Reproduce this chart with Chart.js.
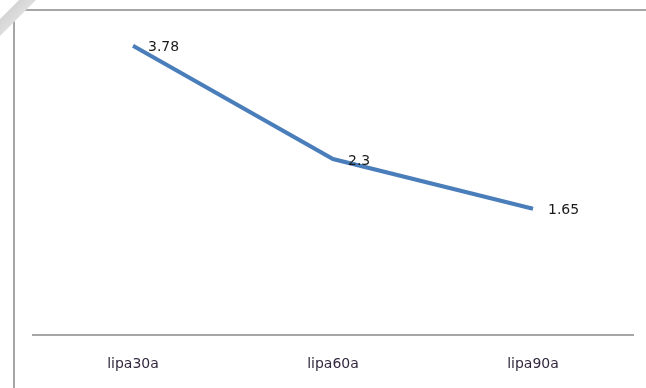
<!DOCTYPE html>
<html>
<head>
<meta charset="utf-8">
<script src="https://cdn.jsdelivr.net/npm/chart.js@4/dist/chart.umd.min.js"></script>
<style>
  html, body { margin: 0; padding: 0; background: #fff; }
  #wrap { position: relative; width: 646px; height: 388px; overflow: hidden; }
  #frame {
    position: absolute; left: 13px; top: 9px; right: -4px; bottom: -4px;
    border-left: 2px solid #a6a6a6; border-top: 2px solid #a6a6a6;
  }
  #curl {
    position: absolute; left: 0; top: 0; width: 40px; height: 40px;
    background: linear-gradient(135deg, #fff 0, #fff 13px, #d4d4d4 14px, #dedede 25px, rgba(255,255,255,0) 26px);
  }
  canvas { position: absolute; left: 0; top: 0; }
</style>
</head>
<body>
<div id="wrap">
  <div id="frame"></div>
  <canvas id="lineChart" width="646" height="388"></canvas>
  <div id="curl"></div>
</div>
<script>
const categories = ['lipa30a', 'lipa60a', 'lipa90a'];
const values = [3.78, 2.3, 1.65];

// value labels placed just right of each point
const pointLabels = {
  id: 'pointLabels',
  afterDatasetsDraw(chart) {
    const ctx = chart.ctx;
    const meta = chart.getDatasetMeta(0);
    ctx.save();
    ctx.font = '14px "DejaVu Sans", Verdana, sans-serif';
    ctx.fillStyle = '#1a1a1a';
    ctx.textBaseline = 'middle';
    meta.data.forEach((pt, i) => {
      ctx.fillText(String(values[i]), pt.x + 15, pt.y + 2);
    });
    ctx.restore();
  }
};

new Chart(document.getElementById('lineChart').getContext('2d'), {
  type: 'line',
  data: {
    labels: categories,
    datasets: [{
      data: values,
      borderColor: '#4a7ebb',
      borderWidth: 4,
      pointRadius: 0,
      tension: 0,
      fill: false
    }]
  },
  options: {
    responsive: false,
    animation: false,
    layout: { padding: { left: 33, right: 13, top: 29, bottom: 0 } },
    plugins: { legend: { display: false }, tooltip: { enabled: false } },
    scales: {
      x: {
        offset: true,
        grid: { display: false },
        border: { display: true, color: '#a6a6a6', width: 2 },
        afterFit(scale) { scale.height = 53; },
        ticks: {
          padding: 13,
          color: '#33283f',
          font: { family: '"DejaVu Sans", Verdana, sans-serif', size: 14 }
        }
      },
      y: { display: false, min: 0, max: 4 }
    }
  },
  plugins: [pointLabels]
});
</script>
</body>
</html>
